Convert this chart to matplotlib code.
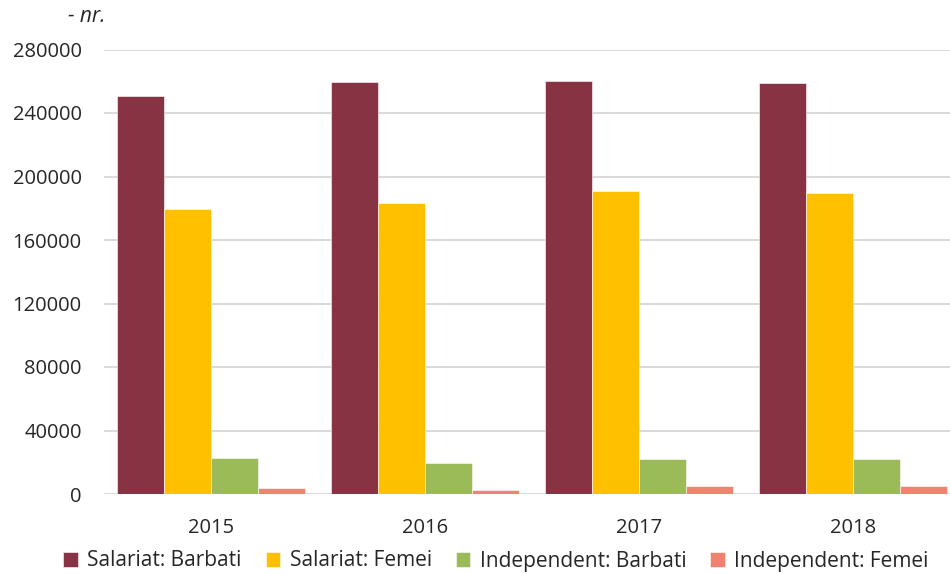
import numpy as np
import matplotlib
matplotlib.use("Agg")
import matplotlib.pyplot as plt

# values
years = ["2015", "2016", "2017", "2018"]
salariat_barbati = [250700, 259400, 259900, 259200]
salariat_femei = [179500, 183500, 190800, 189800]
independent_barbati = [22700, 19500, 21800, 21800]
independent_femei = [4000, 2500, 5000, 5000]

series_names = ["Salariat: Barbati", "Salariat: Femei",
                "Independent: Barbati", "Independent: Femei"]
colors = ["#873344", "#FFC000", "#9BBB59", "#F28270"]

plt.rcParams['font.family'] = ['Open Sans', 'DejaVu Sans']

fig = plt.figure(figsize=(9.5, 5.74), dpi=100)
ax = fig.add_axes([104 / 950, 1 - 494 / 574, 846 / 950, (494 - 49.5) / 574])

x = np.arange(len(years))
width = 0.22
all_series = [salariat_barbati, salariat_femei, independent_barbati, independent_femei]
for i, (vals, name, col) in enumerate(zip(all_series, series_names, colors)):
    ax.bar(x + (i - 1.5) * width, vals, width, color=col, label=name,
           edgecolor="white", linewidth=0.4, zorder=3)

ax.set_ylim(0, 280000)
ax.set_xlim(-0.5, 3.453)
ax.set_yticks(np.arange(0, 280001, 40000))
ax.set_xticks(x)
ax.set_xticklabels(years)
ax.yaxis.grid(True, color="#D9D9D9", linewidth=1.4, zorder=0)
ax.set_axisbelow(True)
for s in ax.spines.values():
    s.set_visible(False)
ax.tick_params(axis="both", length=0, labelsize=14.5, colors="#262626")
ax.tick_params(axis="y", pad=16)
ax.tick_params(axis="x", pad=17)

fig.text(68 / 950, 1 - 17 / 574, "- nr.", fontsize=15, style="italic",
         color="#262626", va="center")

# legend pulled up a few pixels so the text is not clipped
fig.legend(loc="center", bbox_to_anchor=(0.522, 1 - 561 / 574), ncol=4,
           frameon=False, fontsize=15, handlelength=0.7, handleheight=0.7,
           handletextpad=0.45, columnspacing=1.15, labelcolor="#262626",
           borderpad=0.1)

fig.savefig("out.png", dpi=100)
